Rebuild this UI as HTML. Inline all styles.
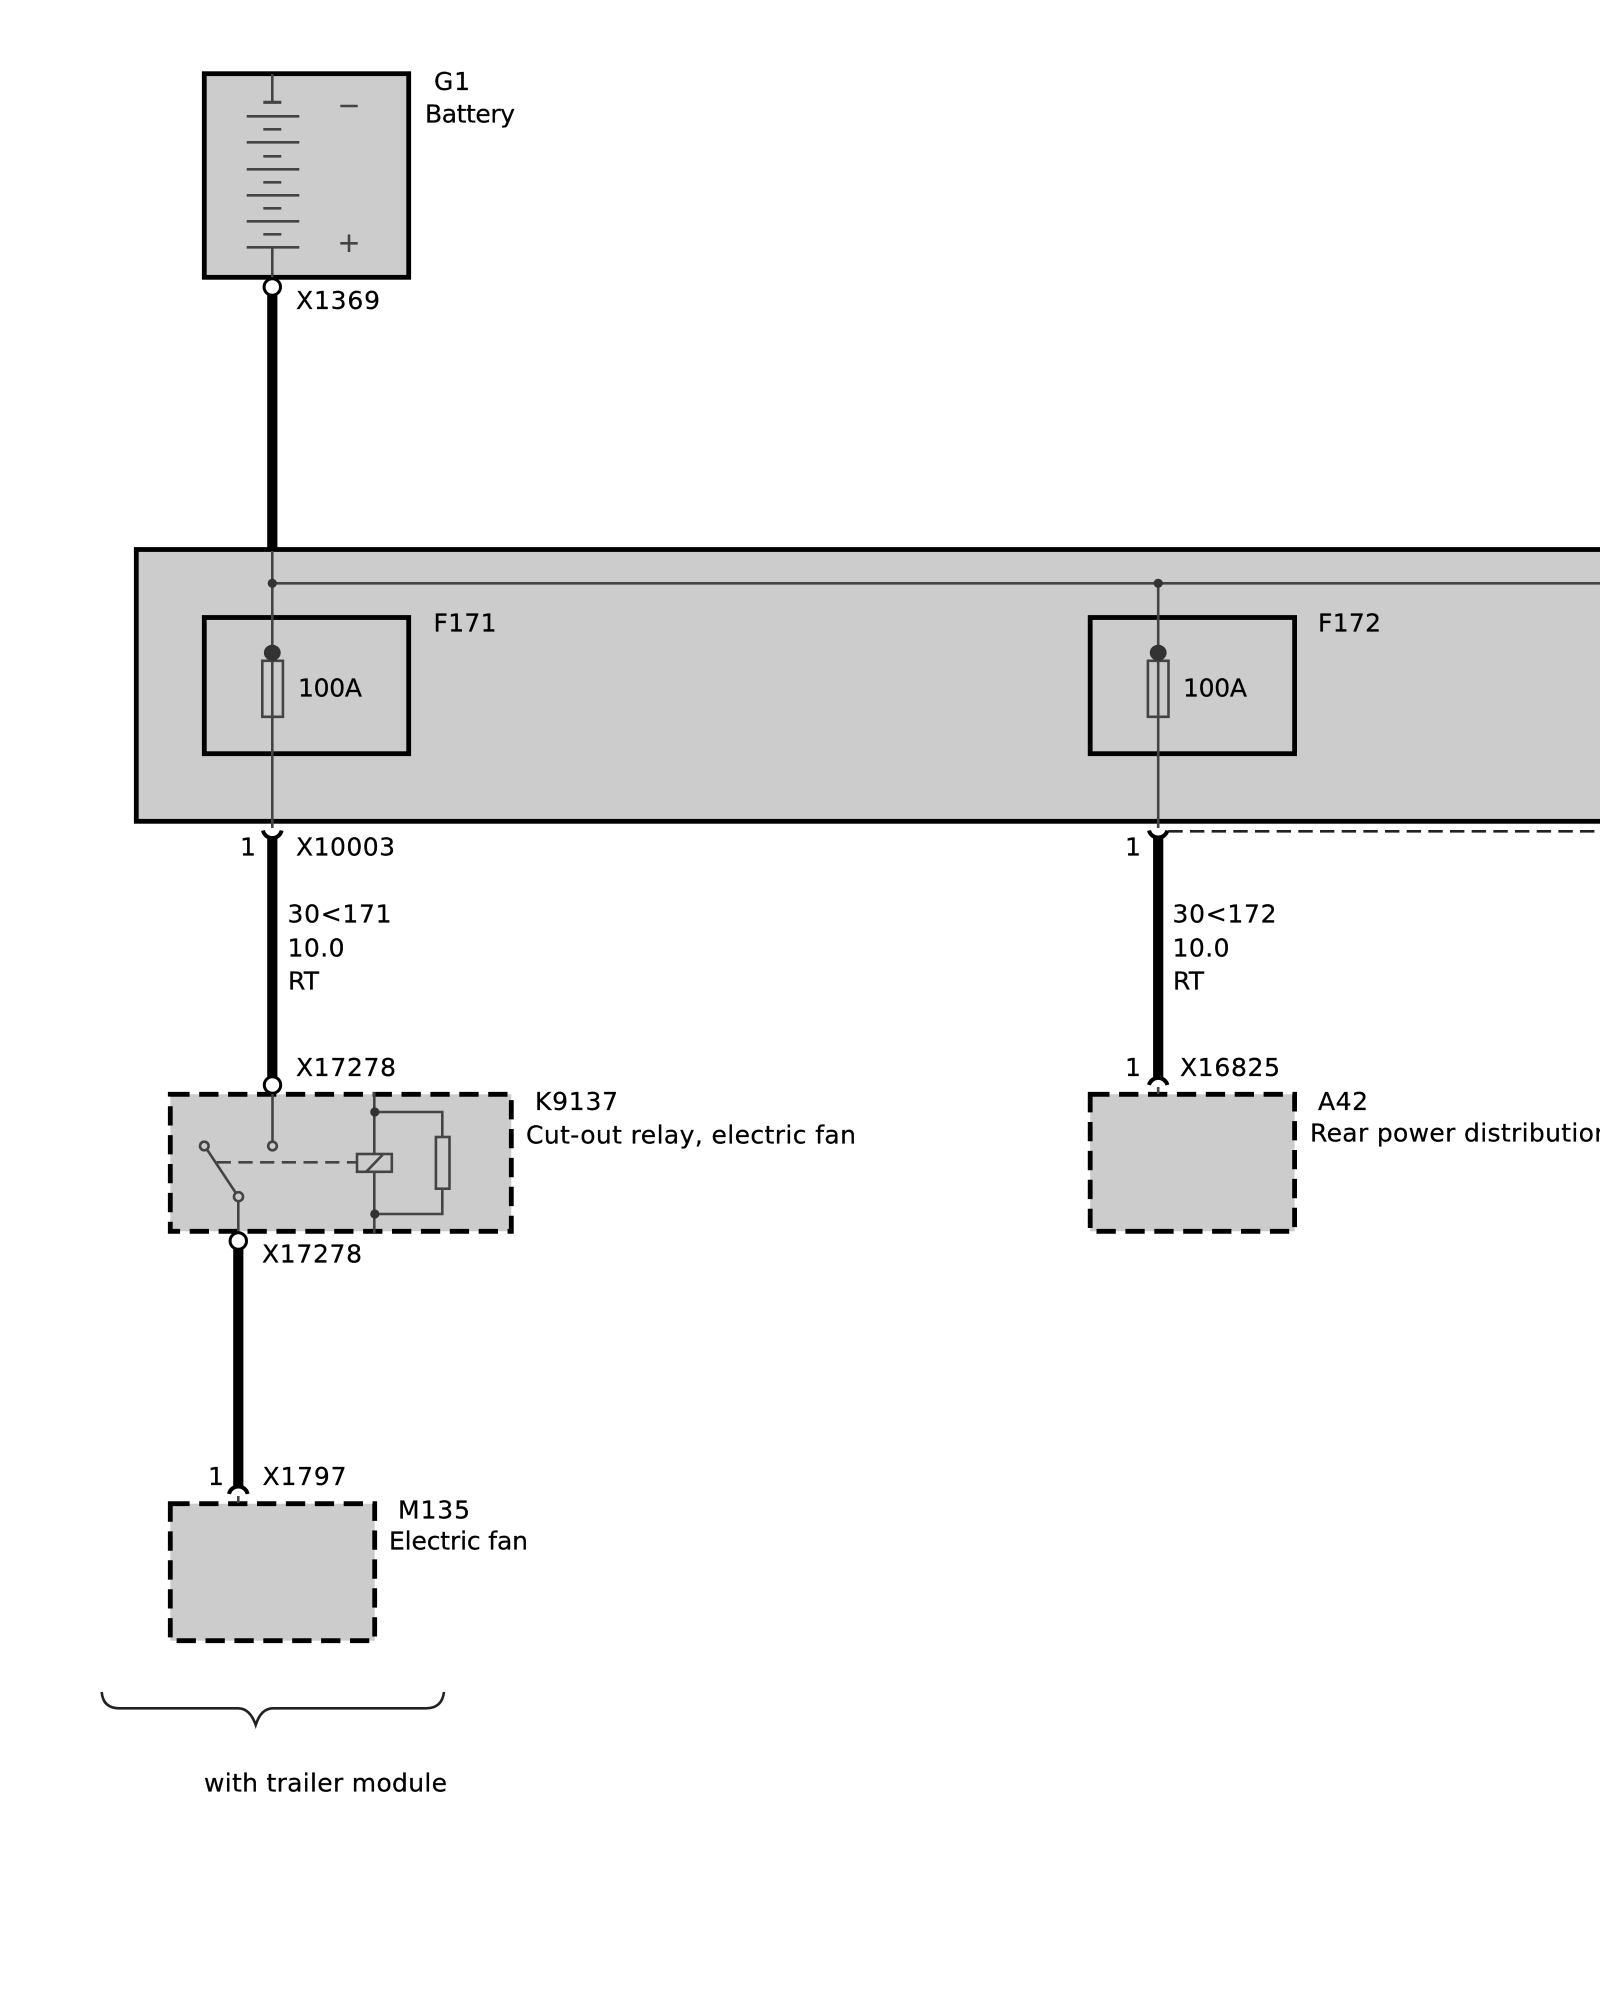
<!DOCTYPE html>
<html>
<head>
<meta charset="utf-8">
<style>
html,body{margin:0;padding:0;background:#fff;width:1600px;height:2000px;overflow:hidden}
svg{display:block}
text{font-family:"DejaVu Sans","Liberation Sans",sans-serif;font-size:25px;fill:#000;stroke:#000;stroke-width:.25px}
</style>
</head>
<body>
<svg xmlns="http://www.w3.org/2000/svg" width="1600" height="2000" viewBox="0 0 1600 2000">
<rect width="1600" height="2000" fill="#fff"/>

<!-- Battery -->
<rect x="204.3" y="73.7" width="204.4" height="203.6" fill="#ccc" stroke="#000" stroke-width="4.8"/>
<g stroke="#444" stroke-width="2.6" fill="none">
<path d="M272.3 74V102"/>
<path d="M263.3 102.3H281.3" stroke-width="3.2"/>
<path d="M246.7 116.3H299.3M246.7 142.3H299.3M246.7 169.3H299.3M246.7 195.3H299.3M246.7 221.3H299.3M246.7 247.3H299.3"/>
<path d="M263.3 129.3H281.3M263.3 156.3H281.3M263.3 182.3H281.3M263.3 208.3H281.3M263.3 234.3H281.3"/>
<path d="M272.3 247V279"/>
<path d="M340.3 106H357.7M340.3 243.3H357.7M349 234.5V252"/>
</g>
<rect x="267.2" y="294" width="10.2" height="255" fill="#000"/>
<circle cx="272.3" cy="287" r="8.2" fill="#fff" stroke="#000" stroke-width="3"/>
<text x="434" y="90" textLength="36">G1</text>
<text x="425" y="122.7" textLength="90">Battery</text>
<text x="296" y="309" textLength="84">X1369</text>

<!-- Main box -->
<rect x="136.3" y="549.5" width="1500" height="271.8" fill="#ccc" stroke="#000" stroke-width="4.8"/>
<rect x="204.3" y="617.5" width="204.4" height="136.2" fill="#ccc" stroke="#000" stroke-width="4.8"/>
<rect x="1090.2" y="617.5" width="204.4" height="136.2" fill="#ccc" stroke="#000" stroke-width="4.8"/>
<g stroke="#444" stroke-width="2.6" fill="none">
<path d="M272.3 551V828"/>
<path d="M1158.2 583V828"/>
<path d="M272.3 583.3H1600"/>
<rect x="262.3" y="660.8" width="20.6" height="56"/>
<rect x="1147.9" y="660.8" width="20.6" height="56"/>
</g>
<circle cx="272.3" cy="583.3" r="4.6" fill="#333"/>
<circle cx="1158.2" cy="583.3" r="4.6" fill="#333"/>
<ellipse cx="272.3" cy="652.7" rx="8.4" ry="8" fill="#333"/>
<ellipse cx="1158.2" cy="652.7" rx="8.4" ry="8" fill="#333"/>
<text x="433.5" y="631.7" textLength="63">F171</text>
<text x="1318" y="631.7" textLength="63">F172</text>
<text x="298" y="696.7" textLength="64">100A</text>
<text x="1183" y="696.7" textLength="64">100A</text>

<!-- Connector X10003 -->
<path d="M263 830.5A9.5 9.5 0 0 0 281.6 830.5" fill="none" stroke="#000" stroke-width="4"/>
<rect x="267.2" y="838.5" width="10.2" height="238.5" fill="#000"/>
<text x="240" y="855.3">1</text>
<text x="296" y="855.3" textLength="99">X10003</text>
<text x="287.5" y="922.7" textLength="104">30&lt;171</text>
<text x="287.5" y="956.7" textLength="57">10.0</text>
<text x="288" y="989.3" textLength="31">RT</text>

<!-- Connector X17278 + relay -->
<rect x="170.3" y="1094.3" width="341" height="137" fill="#ccc" stroke="#000" stroke-width="4.8" stroke-dasharray="19.3 9.6"/>
<circle cx="272.5" cy="1085" r="8.2" fill="#fff" stroke="#000" stroke-width="3"/>
<text x="296" y="1076" textLength="100">X17278</text>
<g stroke="#444" stroke-width="2.6" fill="none">
<path d="M272.5 1094V1141.5"/>
<circle cx="272.5" cy="1146" r="4.3"/>
<circle cx="204.3" cy="1146" r="4.3"/>
<path d="M207 1149.5L235.5 1192.5"/>
<circle cx="238.5" cy="1196.7" r="4.5"/>
<path d="M238.3 1201V1232"/>
<path d="M216.7 1162.3H357" stroke-dasharray="14.2 7.5"/>
<path d="M374.3 1092V1233"/>
<path d="M374.5 1112H442.3V1137"/>
<path d="M374.5 1214H442.3V1188.7"/>
<rect x="435.9" y="1137" width="13.6" height="51.7"/>
<rect x="357" y="1154" width="34.8" height="17.8" fill="#ccc"/>
<path d="M366.7 1171.3L382.7 1154.7"/>
</g>
<circle cx="374.8" cy="1112" r="4.6" fill="#333"/>
<circle cx="374.8" cy="1214" r="4.6" fill="#333"/>
<text x="535" y="1110" textLength="83">K9137</text>
<text x="526" y="1143.3" textLength="330">Cut-out relay, electric fan</text>

<circle cx="238.3" cy="1241" r="8.2" fill="#fff" stroke="#000" stroke-width="3"/>
<text x="262" y="1262.5" textLength="100">X17278</text>
<rect x="233.2" y="1249" width="10.2" height="238" fill="#000"/>

<!-- M135 -->
<rect x="170.3" y="1503.7" width="204.4" height="137" fill="#ccc" stroke="#000" stroke-width="4.8" stroke-dasharray="19.3 9.6"/>
<path d="M229 1494A9.5 9.5 0 0 1 247.6 1494" fill="none" stroke="#000" stroke-width="4"/>
<path d="M238.3 1496V1503" stroke="#444" stroke-width="2.6"/>
<text x="208" y="1485">1</text>
<text x="262.5" y="1485" textLength="84">X1797</text>
<text x="398" y="1518.3" textLength="72">M135</text>
<text x="389" y="1549.3" textLength="139">Electric fan</text>

<!-- Wire 172 -->
<path d="M1149 830.5A9.5 9.5 0 0 0 1167.4 830.5" fill="none" stroke="#000" stroke-width="4"/>
<rect x="1153.1" y="838.5" width="10.2" height="240" fill="#000"/>
<path d="M1168.3 831.3H1600" stroke="#222" stroke-width="2.6" stroke-dasharray="14.4 7.27"/>
<text x="1125" y="855.3">1</text>
<text x="1125" y="1076">1</text>
<text x="1172.5" y="922.7" textLength="104">30&lt;172</text>
<text x="1172.5" y="956.7" textLength="57">10.0</text>
<text x="1173" y="989.3" textLength="31">RT</text>
<text x="1180" y="1076" textLength="100">X16825</text>

<!-- A42 -->
<rect x="1090.2" y="1094.3" width="204.4" height="137" fill="#ccc" stroke="#000" stroke-width="4.8" stroke-dasharray="19.3 9.6"/>
<path d="M1149 1085A9.5 9.5 0 0 1 1167.4 1085" fill="none" stroke="#000" stroke-width="4"/>
<path d="M1158.2 1087V1094" stroke="#444" stroke-width="2.6"/>
<text x="1318" y="1110" textLength="50">A42</text>
<text x="1310" y="1141.7" letter-spacing="0.33">Rear power distribution box</text>

<!-- Brace -->
<path d="M101.7 1692Q103 1708.3 119.3 1708.3H238Q250 1708.3 255.7 1725Q261 1708.3 273 1708.3H426Q442 1708.3 444 1692" fill="none" stroke="#222" stroke-width="2.6"/>
<text x="204" y="1791.7" textLength="243">with trailer module</text>
</svg>
</body>
</html>
